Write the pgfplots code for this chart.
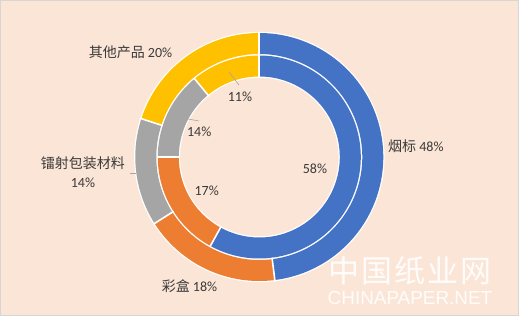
\documentclass[border=0pt]{standalone}
\usepackage{pgfplots}
\pgfplotsset{compat=1.18}
\usepgfplotslibrary{polar}
\usepackage{fontspec}
\setmainfont{Carlito}
\newfontfamily\cjk{Noto Sans CJK SC}
\newfontfamily\wmfont{Liberation Sans}
\definecolor{cBlue}{HTML}{4472C4}
\definecolor{cOrange}{HTML}{ED7D31}
\definecolor{cGray}{HTML}{A5A5A5}
\definecolor{cYellow}{HTML}{FFC000}
\definecolor{bgc}{HTML}{FBE5D6}
\definecolor{txt}{HTML}{3A3A3A}
\definecolor{lead}{HTML}{A6A6A6}
% slice: colour, ring radius, from (cumulative %), to (cumulative %)
\newcommand{\ringslice}[4]{%
  \addplot[draw=#1, line width=21pt, line cap=butt, line join=round, mark=none,
    domain={90-3.6*(#3)}:{90-3.6*(#4)}, samples=90] {#2};}
\newcommand{\sep}[3]{%
  \addplot[draw=white, line width=1.6pt, mark=none] coordinates {({90-3.6*(#1)},#2) ({90-3.6*(#1)},#3)};}
\begin{document}
\begin{tikzpicture}[x=1pt,y=1pt]
\fill[bgc] (-259.3,-159) rectangle (259.7,157);
\draw[black!16, line width=1pt] (-258.8,-158.5) rectangle (259.2,156.5);
\begin{polaraxis}[at={(0,0)}, anchor=center, scale only axis, width=250pt, height=250pt,
  hide axis, ymin=0, ymax=125, clip=false]
  \addplot[draw=white, line width=46pt, mark=none, domain=0:360, samples=181] {102.25};
  % outer ring: 烟标 48, 彩盒 18, 镭射包装材料 14, 其他产品 20
  \ringslice{cBlue}{113.5}{0}{48}
  \ringslice{cOrange}{113.5}{48}{66}
  \ringslice{cGray}{113.5}{66}{80}
  \ringslice{cYellow}{113.5}{80}{100}
  % inner ring: 58, 17, 14, 11
  \ringslice{cBlue}{91}{0}{58}
  \ringslice{cOrange}{91}{58}{75}
  \ringslice{cGray}{91}{75}{89}
  \ringslice{cYellow}{91}{89}{100}
  \sep{0}{79}{125.5}
  \sep{48}{101.5}{125.5}
  \sep{66}{101.5}{125.5}
  \sep{80}{101.5}{125.5}
  \sep{58}{79}{102.5}
  \sep{75}{79}{102.5}
  \sep{89}{79}{102.5}
\end{polaraxis}
\begin{scope}[every node/.style={text=txt, font=\fontsize{14}{19}\selectfont, inner sep=0pt}]
\node[anchor=west] at (128.7,11.3) {{\cjk 烟标} 48\%};
\node at (-69.8,-129) {{\cjk 彩盒} 18\%};
\node[align=center] at (-176.3,-15.5) {{\cjk 镭射包装材料}\\14\%};
\node at (-128.8,105) {{\cjk 其他产品} 20\%};
\node at (-19.3,60.3) {11\%};
\node at (-60.1,25.3) {14\%};
\node at (-52.6,-34) {17\%};
\node at (55.7,-12) {58\%};
\end{scope}
\draw[lead, line width=0.6pt] (-129.3,-16) -- (-123.3,-16);
\draw[lead, line width=0.6pt] (-30.3,85) -- (-20.3,72);
\draw[lead, line width=0.6pt] (-71.3,38) -- (-60.3,36);
\node[text=white, opacity=0.92, inner sep=0pt, font=\cjk\fontsize{31}{31}\selectfont\addfontfeature{LetterSpace=7}] at (150.7,-113.5) {中国纸业网};
\node[text=white, opacity=0.92, inner sep=0pt, font=\wmfont\fontsize{18.9}{19}\selectfont] at (150.7,-141) {CHINAPAPER.NET};
\end{tikzpicture}
\end{document}
